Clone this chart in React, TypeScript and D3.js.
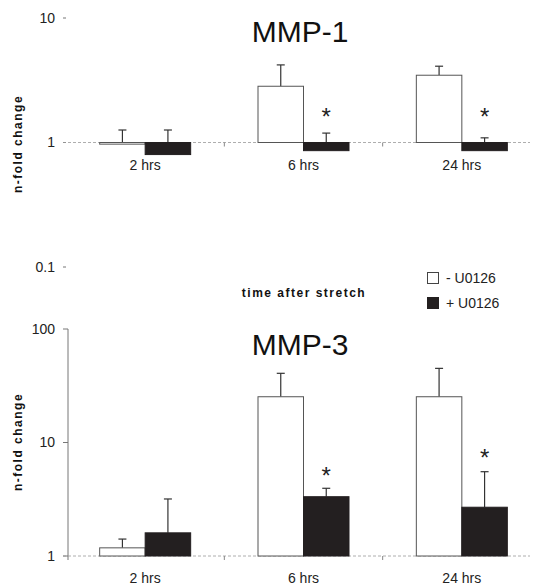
import React from 'react';
import * as d3 from 'd3';

const times = ['2 hrs', '6 hrs', '24 hrs'];
const series = ['- U0126', '+ U0126'];

// MMP-1, n-fold change
const mmp1Minus = [0.97, 2.83, 3.47];
const mmp1MinusErr = [1.26, 4.2, 4.1];
const mmp1Plus = [0.8, 0.86, 0.86];
const mmp1PlusErr = [1.26, 1.19, 1.09];
const mmp1Star = [null, 1.78, 1.78]; // where the * sits

// MMP-3, n-fold change
const mmp3Minus = [1.18, 25.3, 25.3];
const mmp3MinusErr = [1.41, 40.7, 45];
const mmp3Plus = [1.6, 3.33, 2.69];
const mmp3PlusErr = [3.18, 3.95, 5.53];
const mmp3Star = [null, 5.7, 8.3];

const topTicks = [0.1, 1, 10];
const botTicks = [1, 10, 100];

const FONT = 'Liberation Sans, Arial, sans-serif';
const W = 540;
const H = 587;

const x = d3.scaleBand<string>().domain(times).range([66, 541]);
const xs = d3.scaleBand<string>().domain(series).range([0, x.bandwidth()]).paddingOuter(0.74);

const Panel = ({ title, y, minus, minusErr, plus, plusErr, star, ticks, axisLine, labelY, titleY, axisLabelY }) => {
  const base = y(1);
  const bars = [
    { s: series[0], vals: minus, errs: minusErr, fill: '#fff' },
    { s: series[1], vals: plus, errs: plusErr, fill: '#231f20' },
  ];
  return (
    <g>
      <text x={300} y={titleY} textAnchor="middle" fontSize={30} fontFamily={FONT} fill="#111">{title}</text>
      <text transform={`translate(22,${axisLabelY}) rotate(-90)`} textAnchor="middle" fontSize={12}
        fontWeight="bold" letterSpacing={1.5} fontFamily={FONT} fill="#111">n-fold change</text>
      {axisLine && (
        <line x1={68} x2={68} y1={y(ticks[ticks.length - 1])} y2={base + 4} stroke="#777" />
      )}
      {ticks.map(t => (
        <g key={t}>
          <line x1={63} x2={axisLine ? 68 : 66} y1={y(t)} y2={y(t)} stroke="#777" />
          <text x={55} y={y(t)} dy="0.35em" textAnchor="end" fontSize={14} fontFamily={FONT} fill="#222">{t}</text>
        </g>
      ))}
      <line x1={63} x2={530} y1={base} y2={base} stroke="#999" strokeWidth={0.8} strokeDasharray="3,2" />
      {times.slice(1).map(t => (
        <line key={t} x1={x(t)} x2={x(t)} y1={base} y2={base + 4} stroke="#888" />
      ))}
      {bars.map(b =>
        times.map((t, i) => {
          const x0 = x(t) + xs(b.s);
          const v = b.vals[i];
          const top = y(Math.max(v, 1));
          const bottom = y(Math.min(v, 1));
          const cx = x0 + xs.bandwidth() / 2;
          const ey = y(b.errs[i]);
          return (
            <g key={b.s + t}>
              <line x1={cx} x2={cx} y1={top} y2={ey} stroke="#333" strokeWidth={1.2} />
              <line x1={cx - 4} x2={cx + 4} y1={ey} y2={ey} stroke="#333" strokeWidth={1.2} />
              <rect x={x0} y={top} width={xs.bandwidth()} height={Math.max(bottom - top, 1)}
                fill={b.fill} stroke={b.fill === '#fff' ? '#555' : '#231f20'} strokeWidth={1} />
            </g>
          );
        })
      )}
      {times.map((t, i) =>
        star[i] ? (
          <text key={t} x={x(t) + xs(series[1]) + xs.bandwidth() / 2} y={y(star[i]) + 14}
            textAnchor="middle" fontSize={24} fontFamily={FONT} fill="#222">*</text>
        ) : null
      )}
      {times.map(t => (
        <text key={t} x={x(t) + x.bandwidth() / 2} y={labelY} textAnchor="middle" fontSize={14}
          fontFamily={FONT} fill="#222">{t}</text>
      ))}
    </g>
  );
};

export default function App() {
  const yTop = d3.scaleLog().domain([0.1, 10]).range([267, 18]);
  const yBot = d3.scaleLog().domain([1, 100]).range([556, 329]);

  return (
    <div style={{ position: 'absolute', left: 0, top: 0 }}>
      <svg width={W} height={H} style={{ display: 'block', background: '#fff' }}>
        <Panel title="MMP-1" y={yTop} minus={mmp1Minus} minusErr={mmp1MinusErr} plus={mmp1Plus}
          plusErr={mmp1PlusErr} star={mmp1Star} ticks={topTicks} axisLine={false}
          labelY={170} titleY={42} axisLabelY={144} />
        <text x={304} y={297} textAnchor="middle" fontSize={12} fontWeight="bold" letterSpacing={1.5}
          fontFamily={FONT} fill="#111">time after stretch</text>
        {series.map((s, i) => (
          <g key={s} transform={`translate(427,${272 + i * 25})`}>
            <rect x={0.5} y={0.5} width={11} height={11} fill={i === 0 ? '#fff' : '#231f20'}
              stroke={i === 0 ? '#444' : '#231f20'} />
            <text x={19} y={11} fontSize={14} fontFamily={FONT} fill="#222">{s}</text>
          </g>
        ))}
        <Panel title="MMP-3" y={yBot} minus={mmp3Minus} minusErr={mmp3MinusErr} plus={mmp3Plus}
          plusErr={mmp3PlusErr} star={mmp3Star} ticks={botTicks} axisLine={true}
          labelY={583} titleY={355} axisLabelY={442} />
      </svg>
    </div>
  );
}
